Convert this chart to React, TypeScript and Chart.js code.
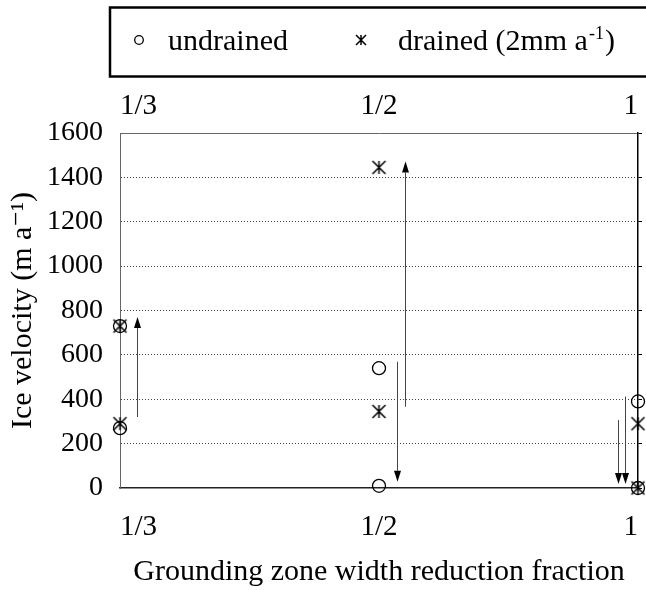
import React, { useEffect, useRef } from 'react';
import { Chart, registerables } from 'chart.js';

Chart.register(...registerables);

// ---- data ----
const categories = ['1/3', '1/2', '1'];
const categoryIndex = [0, 1, 2];
const undrainedBefore = [270, 540, 390];
const undrainedAfter = [730, 10, 0];
const drainedBefore = [290, 345, 290];
const drainedAfter = [730, 1445, 0];

// arrows (x in category units, y in m a^-1)
const arrowX = [0.066, 1.1, 1.068, 1.949, 1.922];
const arrowFrom = [320, 366, 569, 412, 306];
const arrowTo = [771, 1471, 28, 18, 18];

const legendUndrained = 'undrained';
const legendDrained = ['drained (2mm a', '-1', ')'];
const yTitle = 'Ice velocity (m a\u207B\u00B9)';
const xTitle = 'Grounding zone width reduction fraction';

const FONT = '"Liberation Serif", "Times New Roman", "DejaVu Serif", serif';

function makeStar(size: number, lw: number) {
  const c = document.createElement('canvas');
  const pad = 2;
  c.width = size + pad * 2;
  c.height = size + pad * 2;
  const g = c.getContext('2d')!;
  g.strokeStyle = '#000';
  g.lineWidth = lw;
  const h = size / 2;
  const cx = c.width / 2;
  const cy = c.height / 2;
  g.beginPath();
  g.moveTo(cx - h, cy - h);
  g.lineTo(cx + h, cy + h);
  g.moveTo(cx + h, cy - h);
  g.lineTo(cx - h, cy + h);
  g.moveTo(cx, cy - h);
  g.lineTo(cx, cy + h);
  g.stroke();
  return c;
}

export default function App() {
  const ref = useRef<HTMLCanvasElement | null>(null);

  useEffect(() => {
    if (!ref.current) return;
    const star = makeStar(13, 1.5);
    const legendStar = makeStar(10, 1.5);

    const undrainedPts = categoryIndex.flatMap((i) => [
      { x: i, y: undrainedBefore[i] },
      { x: i, y: undrainedAfter[i] },
    ]);
    const drainedPts = categoryIndex.flatMap((i) => [
      { x: i, y: drainedBefore[i] },
      { x: i, y: drainedAfter[i] },
    ]);

    const arrowsPlugin = {
      id: 'arrows',
      afterDatasetsDraw(chart: any) {
        const { ctx, scales } = chart;
        const xs = scales.x;
        const ys = scales.y;
        arrowX.forEach((ax, i) => {
          const px = Math.round(xs.getPixelForValue(ax)) + 0.5;
          const y0 = ys.getPixelForValue(arrowFrom[i]);
          const y1 = ys.getPixelForValue(arrowTo[i]);
          const dir = Math.sign(y1 - y0);
          const headLen = 11;
          const headW = 3.5;
          ctx.save();
          ctx.strokeStyle = '#444';
          ctx.lineWidth = 1;
          ctx.beginPath();
          ctx.moveTo(px, y0);
          ctx.lineTo(px, y1 - dir * headLen);
          ctx.stroke();
          ctx.fillStyle = '#000';
          ctx.beginPath();
          ctx.moveTo(px, y1);
          ctx.lineTo(px - headW, y1 - dir * headLen);
          ctx.lineTo(px + headW, y1 - dir * headLen);
          ctx.closePath();
          ctx.fill();
          ctx.restore();
        });
      },
    };

    const legendPlugin = {
      id: 'boxLegend',
      afterDraw(chart: any) {
        const { ctx } = chart;
        ctx.save();
        ctx.strokeStyle = '#000';
        ctx.lineWidth = 2.5;
        ctx.strokeRect(110, 7.5, 560, 69);
        // circle marker
        ctx.lineWidth = 1.3;
        ctx.beginPath();
        ctx.arc(139, 40, 4.3, 0, Math.PI * 2);
        ctx.stroke();
        ctx.fillStyle = '#000';
        ctx.textBaseline = 'alphabetic';
        ctx.textAlign = 'left';
        ctx.font = `30px ${FONT}`;
        ctx.fillText(legendUndrained, 168, 50);
        // star marker
        ctx.drawImage(legendStar, 361 - legendStar.width / 2, 40 - legendStar.height / 2);
        let x = 398;
        ctx.font = `30px ${FONT}`;
        ctx.fillText(legendDrained[0], x, 50);
        x += ctx.measureText(legendDrained[0]).width + 1;
        ctx.font = `18px ${FONT}`;
        ctx.fillText(legendDrained[1], x, 39);
        x += ctx.measureText(legendDrained[1]).width + 1;
        ctx.font = `30px ${FONT}`;
        ctx.fillText(legendDrained[2], x, 50);
        ctx.restore();
      },
    };

    const xTickCfg = {
      stepSize: 1,
      align: 'inner' as const,
      color: '#000',
      padding: 0,
      font: { family: FONT, size: 29, lineHeight: 1 },
      callback: (v: any) => categories[Number(v)] ?? '',
      maxRotation: 0,
      autoSkip: false,
    };

    const chart = new Chart(ref.current, {
      type: 'scatter',
      data: {
        datasets: [
          {
            label: 'undrained',
            data: undrainedPts,
            pointStyle: 'circle',
            pointRadius: 6.5,
            pointHoverRadius: 6.5,
            borderColor: '#000',
            backgroundColor: 'rgba(0,0,0,0)',
            pointBorderWidth: 1.3,
            showLine: false,
            clip: false as any,
          },
          {
            label: 'drained (2mm a-1)',
            data: drainedPts,
            pointStyle: star as any,
            pointRadius: 7,
            borderColor: '#000',
            backgroundColor: '#000',
            showLine: false,
            clip: false as any,
          },
        ],
      },
      options: {
        responsive: false,
        animation: false,
        events: [],
        layout: { padding: 0 },
        plugins: {
          legend: { display: false },
          tooltip: { enabled: false },
          title: { display: false },
        },
        scales: {
          x: {
            type: 'linear',
            position: 'bottom',
            min: 0,
            max: 2,
            grid: {
              display: true,
              drawOnChartArea: false,
              drawTicks: true,
              tickLength: 24.5,
              color: 'rgba(0,0,0,0)',
            },
            border: { display: true, color: '#222', width: 1.5 },
            ticks: { ...xTickCfg },
            title: {
              display: true,
              text: xTitle,
              color: '#000',
              font: { family: FONT, size: 30, lineHeight: 1 },
              padding: { top: 0, bottom: 3 },
            },
            afterFit: (s: any) => {
              s.height = 102;
              s.paddingLeft = 0;
              s.paddingRight = 0;
            },
          },
          x2: {
            type: 'linear',
            position: 'top',
            min: 0,
            max: 2,
            grid: {
              display: true,
              drawOnChartArea: false,
              drawTicks: true,
              tickLength: 12.5,
              color: 'rgba(0,0,0,0)',
            },
            border: { display: true, color: '#666', width: 1 },
            ticks: { ...xTickCfg },
            afterFit: (s: any) => {
              s.height = 133;
              s.paddingLeft = 0;
              s.paddingRight = 0;
            },
          },
          y: {
            type: 'linear',
            position: 'left',
            min: 0,
            max: 1600,
            grid: {
              drawTicks: false,
              color: (c: any) =>
                c.tick && (c.tick.value === 0 || c.tick.value === 1600) ? 'rgba(0,0,0,0)' : '#444',
              lineWidth: 1,
            },
            border: { display: true, color: '#666', width: 1, dash: [1, 2] },
            ticks: {
              stepSize: 200,
              color: '#000',
              padding: 17,
              font: { family: FONT, size: 28, lineHeight: 1 },
              callback: (v: any) => String(v),
            },
            title: {
              display: true,
              text: yTitle,
              color: '#000',
              font: { family: FONT, size: 30, lineHeight: 1 },
              padding: { top: 8, bottom: 0 },
            },
            afterFit: (s: any) => {
              s.width = 120;
            },
          },
          y2: {
            type: 'linear',
            position: 'right',
            min: 0,
            max: 1600,
            grid: { drawOnChartArea: false, drawTicks: true, tickLength: 4, color: '#000', lineWidth: 1 },
            border: { display: true, color: '#000', width: 1.5 },
            ticks: { stepSize: 200, display: false },
            afterFit: (s: any) => {
              s.width = 8;
            },
          },
        },
      },
      plugins: [arrowsPlugin, legendPlugin],
    });

    return () => {
      chart.destroy();
    };
  }, []);

  return (
    <div style={{ position: 'fixed', left: 0, top: 0, width: 646, height: 590, background: '#fff' }}>
      <canvas ref={ref} width={646} height={590} />
    </div>
  );
}
